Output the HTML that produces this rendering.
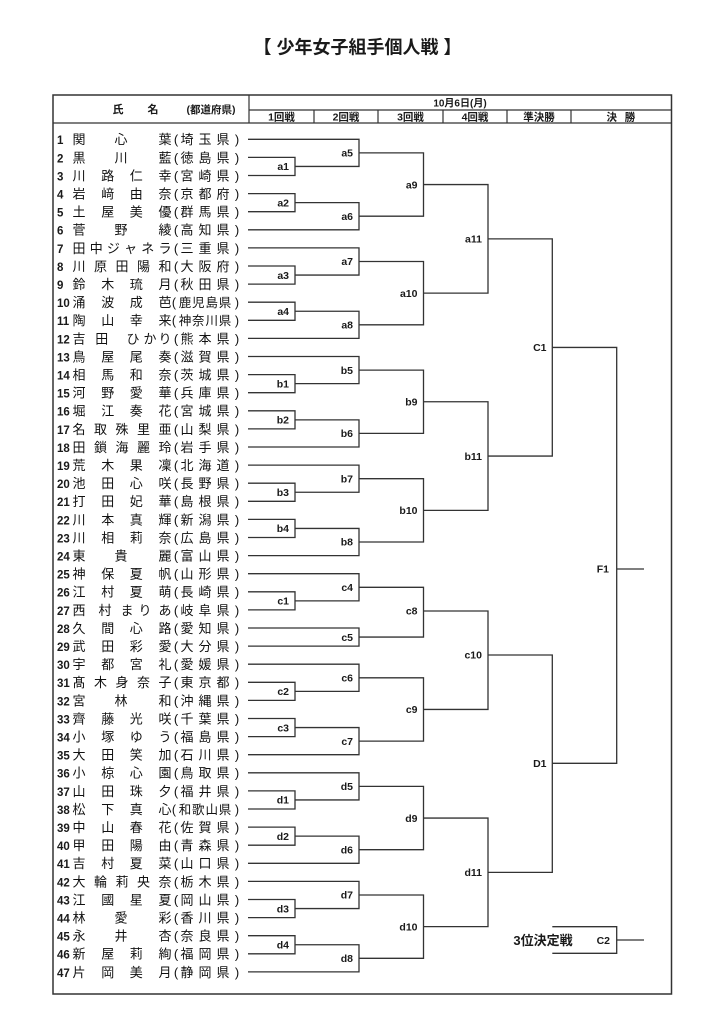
<!DOCTYPE html>
<html><head><meta charset="utf-8">
<style>
html,body{margin:0;padding:0;background:#fff;width:724px;height:1024px;overflow:hidden}
svg{display:block}
.t{font-family:"Liberation Sans","Noto Sans CJK JP",sans-serif;font-size:13px;text-anchor:middle;fill:#111}
.t4{font-family:"Liberation Sans","Noto Sans CJK JP",sans-serif;font-size:12.5px;text-anchor:middle;fill:#111}
.n{font-family:"Liberation Sans",sans-serif;font-weight:bold;font-size:11.5px;fill:#1a1a1a}
.l{font-family:"Liberation Sans",sans-serif;font-weight:bold;font-size:10.5px;text-anchor:end;fill:#1a1a1a}
.h{font-family:"Liberation Sans","Noto Sans CJK JP",sans-serif;font-weight:bold;text-anchor:middle;fill:#1a1a1a}
</style></head><body>
<svg width="724" height="1024" viewBox="0 0 724 1024" xmlns="http://www.w3.org/2000/svg">
<text class="h" x="357.5" y="53.5" style="font-size:18px">【 少年女子組手個人戦 】</text>

<rect x="53" y="95" width="618.5" height="899" fill="none" stroke="#333" stroke-width="1.5"/>
<path d="M53 123H671.5M249 110H671.5M249 95V123M314 110V123M378 110V123M443 110V123M507 110V123M571 110V123" fill="none" stroke="#333" stroke-width="1.2"/>

<text class="h" x="118" y="113.2" style="font-size:11px">氏</text>
<text class="h" x="153" y="113.2" style="font-size:11px">名</text>
<text class="h" x="211" y="113" style="font-size:10.5px">(都道府県)</text>
<text class="h" x="460" y="106.3" style="font-size:10px">10月6日(月)</text>
<text class="h" x="281.5" y="120.4" style="font-size:10.5px">1回戦</text>
<text class="h" x="346" y="120.4" style="font-size:10.5px">2回戦</text>
<text class="h" x="410.5" y="120.4" style="font-size:10.5px">3回戦</text>
<text class="h" x="475" y="120.4" style="font-size:10.5px">4回戦</text>
<text class="h" x="539" y="120.4" style="font-size:10.5px">準決勝</text>
<text class="h" x="611.7 630" y="120.4" style="font-size:10.5px">決勝</text>

<path fill="none" stroke="#333" stroke-width="1.3" d="
M248 139.3H359V166.45H295M248 157.4H295V175.5H248M359 152.9H423.5V216.2H359
M248 193.6H295V211.7H248M295 202.65H359V229.8H248
M248 247.9H359V275.05H295M248 266H295V284.1H248
M248 302.2H295V320.3H248M295 311.25H359V338.4H248
M359 261.5H423.5V324.8H359M423.5 184.55H488V293.15H423.5
M488 238.85H552.3V456.05H488
M248 356.5H359V383.65H295M248 374.6H295V392.7H248M359 370.1H423.5V433.4H359
M248 410.8H295V428.9H248M295 419.85H359V447H248
M248 465.1H359V492.25H295M248 483.2H295V501.3H248
M248 519.4H295V537.5H248M295 528.45H359V555.6H248
M359 478.7H423.5V542H359M423.5 401.75H488V510.35H423.5
M552.3 347.45H616.7V763.3H552.3M616.7 569H644
M248 573.7H359V600.85H295M248 591.8H295V609.9H248
M248 628H359V646.1H248M359 587.3H423.5V637.05H359
M248 664.2H359V691.35H295M248 682.3H295V700.4H248
M248 718.5H295V736.6H248M295 727.55H359V754.7H248
M359 677.8H423.5V741.1H359M423.5 611H488V709.45H423.5
M488 655H552.3V872.35H488
M248 772.8H359V799.95H295M248 790.9H295V809H248M359 786.4H423.5V849.7H359
M248 827.1H295V845.2H248M295 836.15H359V863.3H248
M248 881.4H359V908.55H295M248 899.5H295V917.6H248
M248 935.7H295V953.8H248M295 944.75H359V971.9H248
M359 895H423.5V958.3H359M423.5 818.05H488V926.65H423.5
M552.3 926.7H616.7V953.3H552.3M616.7 940H644"/>

<text class="l" x="289" y="170.15">a1</text>
<text class="l" x="289" y="206.35">a2</text>
<text class="l" x="289" y="278.75">a3</text>
<text class="l" x="289" y="314.95">a4</text>
<text class="l" x="289" y="387.35">b1</text>
<text class="l" x="289" y="423.55">b2</text>
<text class="l" x="289" y="495.95">b3</text>
<text class="l" x="289" y="532.15">b4</text>
<text class="l" x="289" y="604.55">c1</text>
<text class="l" x="289" y="695.05">c2</text>
<text class="l" x="289" y="731.25">c3</text>
<text class="l" x="289" y="803.65">d1</text>
<text class="l" x="289" y="839.85">d2</text>
<text class="l" x="289" y="912.25">d3</text>
<text class="l" x="289" y="948.45">d4</text>
<text class="l" x="353" y="156.6">a5</text>
<text class="l" x="353" y="219.9">a6</text>
<text class="l" x="353" y="265.2">a7</text>
<text class="l" x="353" y="328.5">a8</text>
<text class="l" x="353" y="373.8">b5</text>
<text class="l" x="353" y="437.1">b6</text>
<text class="l" x="353" y="482.4">b7</text>
<text class="l" x="353" y="545.7">b8</text>
<text class="l" x="353" y="591">c4</text>
<text class="l" x="353" y="640.75">c5</text>
<text class="l" x="353" y="681.5">c6</text>
<text class="l" x="353" y="744.8">c7</text>
<text class="l" x="353" y="790.1">d5</text>
<text class="l" x="353" y="853.4">d6</text>
<text class="l" x="353" y="898.7">d7</text>
<text class="l" x="353" y="962">d8</text>
<text class="l" x="417.5" y="188.25">a9</text>
<text class="l" x="417.5" y="296.85">a10</text>
<text class="l" x="417.5" y="405.45">b9</text>
<text class="l" x="417.5" y="514.05">b10</text>
<text class="l" x="417.5" y="614.7">c8</text>
<text class="l" x="417.5" y="713.15">c9</text>
<text class="l" x="417.5" y="821.75">d9</text>
<text class="l" x="417.5" y="930.35">d10</text>
<text class="l" x="482" y="242.55">a11</text>
<text class="l" x="482" y="459.75">b11</text>
<text class="l" x="482" y="658.7">c10</text>
<text class="l" x="482" y="876.05">d11</text>
<text class="l" x="546.5" y="351.15">C1</text>
<text class="l" x="546.5" y="767">D1</text>
<text class="l" x="609" y="572.7">F1</text>
<text class="l" x="610" y="943.8">C2</text>
<text class="h" x="543" y="945" style="font-size:13px">3位決定戦</text>

<g transform="translate(0,144.2)"><text class="n" x="57">1</text><text class="t" x="79 121 165">関心葉</text><text class="t" x="176 187 205 223 237">(埼玉県)</text></g>
<g transform="translate(0,162.3)"><text class="n" x="57">2</text><text class="t" x="79 121 165">黒川藍</text><text class="t" x="176 187 205 223 237">(徳島県)</text></g>
<g transform="translate(0,180.4)"><text class="n" x="57">3</text><text class="t" x="79 107.7 136.3 165">川路仁幸</text><text class="t" x="176 187 205 223 237">(宮崎県)</text></g>
<g transform="translate(0,198.5)"><text class="n" x="57">4</text><text class="t" x="79 107.7 136.3 165">岩﨑由奈</text><text class="t" x="176 187 205 223 237">(京都府)</text></g>
<g transform="translate(0,216.6)"><text class="n" x="57">5</text><text class="t" x="79 107.7 136.3 165">土屋美優</text><text class="t" x="176 187 205 223 237">(群馬県)</text></g>
<g transform="translate(0,234.7)"><text class="n" x="57">6</text><text class="t" x="79 121 165">菅野綾</text><text class="t" x="176 187 205 223 237">(高知県)</text></g>
<g transform="translate(0,252.8)"><text class="n" x="57">7</text><text class="t" x="79 96.2 113.4 130.6 147.8 165">田中ジャネラ</text><text class="t" x="176 187 205 223 237">(三重県)</text></g>
<g transform="translate(0,270.9)"><text class="n" x="57">8</text><text class="t" x="79 100.5 122 143.5 165">川原田陽和</text><text class="t" x="176 187 205 223 237">(大阪府)</text></g>
<g transform="translate(0,289)"><text class="n" x="57">9</text><text class="t" x="79 107.7 136.3 165">鈴木琉月</text><text class="t" x="176 187 205 223 237">(秋田県)</text></g>
<g transform="translate(0,307.1)"><text class="n" x="57">10</text><text class="t" x="79 107.7 136.3 165">涌波成芭</text><text class="t4" x="174 185 198.3 211.7 225 237">(鹿児島県)</text></g>
<g transform="translate(0,325.2)"><text class="n" x="57">11</text><text class="t" x="79 107.7 136.3 165">陶山幸来</text><text class="t4" x="174 185 198.3 211.7 225 237">(神奈川県)</text></g>
<g transform="translate(0,343.3)"><text class="n" x="57">12</text><text class="t" x="79 101.7 133 150 165">吉田ひかり</text><text class="t" x="176 187 205 223 237">(熊本県)</text></g>
<g transform="translate(0,361.4)"><text class="n" x="57">13</text><text class="t" x="79 107.7 136.3 165">鳥屋尾奏</text><text class="t" x="176 187 205 223 237">(滋賀県)</text></g>
<g transform="translate(0,379.5)"><text class="n" x="57">14</text><text class="t" x="79 107.7 136.3 165">相馬和奈</text><text class="t" x="176 187 205 223 237">(茨城県)</text></g>
<g transform="translate(0,397.6)"><text class="n" x="57">15</text><text class="t" x="79 107.7 136.3 165">河野愛華</text><text class="t" x="176 187 205 223 237">(兵庫県)</text></g>
<g transform="translate(0,415.7)"><text class="n" x="57">16</text><text class="t" x="79 107.7 136.3 165">堀江奏花</text><text class="t" x="176 187 205 223 237">(宮城県)</text></g>
<g transform="translate(0,433.8)"><text class="n" x="57">17</text><text class="t" x="79 100.5 122 143.5 165">名取殊里亜</text><text class="t" x="176 187 205 223 237">(山梨県)</text></g>
<g transform="translate(0,451.9)"><text class="n" x="57">18</text><text class="t" x="79 100.5 122 143.5 165">田鎖海麗玲</text><text class="t" x="176 187 205 223 237">(岩手県)</text></g>
<g transform="translate(0,470)"><text class="n" x="57">19</text><text class="t" x="79 107.7 136.3 165">荒木果凜</text><text class="t" x="176 187 205 223 237">(北海道)</text></g>
<g transform="translate(0,488.1)"><text class="n" x="57">20</text><text class="t" x="79 107.7 136.3 165">池田心咲</text><text class="t" x="176 187 205 223 237">(長野県)</text></g>
<g transform="translate(0,506.2)"><text class="n" x="57">21</text><text class="t" x="79 107.7 136.3 165">打田妃華</text><text class="t" x="176 187 205 223 237">(島根県)</text></g>
<g transform="translate(0,524.3)"><text class="n" x="57">22</text><text class="t" x="79 107.7 136.3 165">川本真輝</text><text class="t" x="176 187 205 223 237">(新潟県)</text></g>
<g transform="translate(0,542.4)"><text class="n" x="57">23</text><text class="t" x="79 107.7 136.3 165">川相莉奈</text><text class="t" x="176 187 205 223 237">(広島県)</text></g>
<g transform="translate(0,560.5)"><text class="n" x="57">24</text><text class="t" x="79 121 165">東貴麗</text><text class="t" x="176 187 205 223 237">(富山県)</text></g>
<g transform="translate(0,578.6)"><text class="n" x="57">25</text><text class="t" x="79 107.7 136.3 165">神保夏帆</text><text class="t" x="176 187 205 223 237">(山形県)</text></g>
<g transform="translate(0,596.7)"><text class="n" x="57">26</text><text class="t" x="79 107.7 136.3 165">江村夏萌</text><text class="t" x="176 187 205 223 237">(長崎県)</text></g>
<g transform="translate(0,614.8)"><text class="n" x="57">27</text><text class="t" x="79 105 127 145 165">西村まりあ</text><text class="t" x="176 187 205 223 237">(岐阜県)</text></g>
<g transform="translate(0,632.9)"><text class="n" x="57">28</text><text class="t" x="79 107.7 136.3 165">久間心路</text><text class="t" x="176 187 205 223 237">(愛知県)</text></g>
<g transform="translate(0,651)"><text class="n" x="57">29</text><text class="t" x="79 107.7 136.3 165">武田彩愛</text><text class="t" x="176 187 205 223 237">(大分県)</text></g>
<g transform="translate(0,669.1)"><text class="n" x="57">30</text><text class="t" x="79 107.7 136.3 165">宇都宮礼</text><text class="t" x="176 187 205 223 237">(愛媛県)</text></g>
<g transform="translate(0,687.2)"><text class="n" x="57">31</text><text class="t" x="79 100.5 122 143.5 165">髙木身奈子</text><text class="t" x="176 187 205 223 237">(東京都)</text></g>
<g transform="translate(0,705.3)"><text class="n" x="57">32</text><text class="t" x="79 121 165">宮林和</text><text class="t" x="176 187 205 223 237">(沖縄県)</text></g>
<g transform="translate(0,723.4)"><text class="n" x="57">33</text><text class="t" x="79 107.7 136.3 165">齊藤光咲</text><text class="t" x="176 187 205 223 237">(千葉県)</text></g>
<g transform="translate(0,741.5)"><text class="n" x="57">34</text><text class="t" x="79 107.7 136.3 165">小塚ゆう</text><text class="t" x="176 187 205 223 237">(福島県)</text></g>
<g transform="translate(0,759.6)"><text class="n" x="57">35</text><text class="t" x="79 107.7 136.3 165">大田笑加</text><text class="t" x="176 187 205 223 237">(石川県)</text></g>
<g transform="translate(0,777.7)"><text class="n" x="57">36</text><text class="t" x="79 107.7 136.3 165">小椋心園</text><text class="t" x="176 187 205 223 237">(鳥取県)</text></g>
<g transform="translate(0,795.8)"><text class="n" x="57">37</text><text class="t" x="79 107.7 136.3 165">山田珠夕</text><text class="t" x="176 187 205 223 237">(福井県)</text></g>
<g transform="translate(0,813.9)"><text class="n" x="57">38</text><text class="t" x="79 107.7 136.3 165">松下真心</text><text class="t4" x="174 185 198.3 211.7 225 237">(和歌山県)</text></g>
<g transform="translate(0,832)"><text class="n" x="57">39</text><text class="t" x="79 107.7 136.3 165">中山春花</text><text class="t" x="176 187 205 223 237">(佐賀県)</text></g>
<g transform="translate(0,850.1)"><text class="n" x="57">40</text><text class="t" x="79 107.7 136.3 165">甲田陽由</text><text class="t" x="176 187 205 223 237">(青森県)</text></g>
<g transform="translate(0,868.2)"><text class="n" x="57">41</text><text class="t" x="79 107.7 136.3 165">吉村夏菜</text><text class="t" x="176 187 205 223 237">(山口県)</text></g>
<g transform="translate(0,886.3)"><text class="n" x="57">42</text><text class="t" x="79 100.5 122 143.5 165">大輪莉央奈</text><text class="t" x="176 187 205 223 237">(栃木県)</text></g>
<g transform="translate(0,904.4)"><text class="n" x="57">43</text><text class="t" x="79 107.7 136.3 165">江國星夏</text><text class="t" x="176 187 205 223 237">(岡山県)</text></g>
<g transform="translate(0,922.5)"><text class="n" x="57">44</text><text class="t" x="79 121 165">林愛彩</text><text class="t" x="176 187 205 223 237">(香川県)</text></g>
<g transform="translate(0,940.6)"><text class="n" x="57">45</text><text class="t" x="79 121 165">永井杏</text><text class="t" x="176 187 205 223 237">(奈良県)</text></g>
<g transform="translate(0,958.7)"><text class="n" x="57">46</text><text class="t" x="79 107.7 136.3 165">新屋莉絢</text><text class="t" x="176 187 205 223 237">(福岡県)</text></g>
<g transform="translate(0,976.8)"><text class="n" x="57">47</text><text class="t" x="79 107.7 136.3 165">片岡美月</text><text class="t" x="176 187 205 223 237">(静岡県)</text></g>
</svg>
</body></html>
